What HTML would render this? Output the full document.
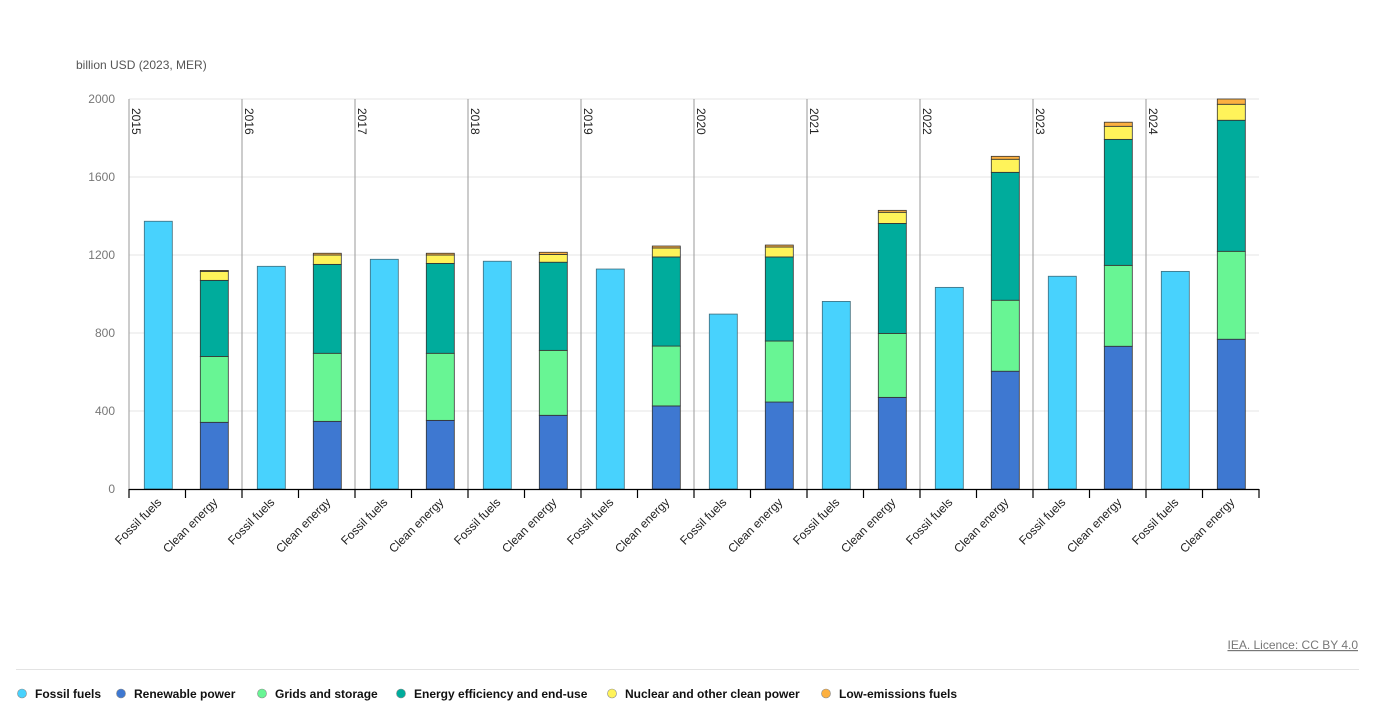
<!DOCTYPE html>
<html><head><meta charset="utf-8"><style>
body{margin:0;background:#fff;font-family:"Liberation Sans",sans-serif;}
svg text{font-family:"Liberation Sans",sans-serif;}
</style></head><body>
<svg width="1375" height="716" xmlns="http://www.w3.org/2000/svg">
<text x="76" y="69" font-size="12" fill="#555">billion USD (2023, MER)</text>
<g id="grid"></g><g id="bars"></g><g id="axes"></g>
<text x="1358" y="649" font-size="12" fill="#777" text-anchor="end" text-decoration="underline">IEA. Licence: CC BY 4.0</text>
<line x1="16" y1="669.5" x2="1359" y2="669.5" stroke="#e3e3e3"/>
<g id="legend"></g>
</svg>
<script>
const years=["2015","2016","2017","2018","2019","2020","2021","2022","2023","2024"];
const fossil=[1373,1142,1178,1168,1128,897,962,1034,1091,1116];
const renewable=[342,347,352,378,426,446,470,604,732,768];
const grids=[338,349,344,333,307,313,328,364,415,451];
const efficiency=[390,456,461,452,457,431,564,656,646,672];
const nuclear=[46,48,43,40,46,51,57,67,67,82];
const lowEmissions=[5,9,9,11,10,10,10,15,21,27];
const yTicks=[0,400,800,1200,1600,2000];
const seriesNames=["Fossil fuels","Renewable power","Grids and storage","Energy efficiency and end-use","Nuclear and other clean power","Low-emissions fuels"];
const colors=["#48d2fd","#3e78d1","#68f594","#00ac9c","#fff35a","#fcb040"];
const NS="http://www.w3.org/2000/svg";
const x0=129,x1=1259,y0=489,y1=99,vmax=2000;
const gw=(x1-x0)/years.length;
const ys=v=>y0-(v/vmax)*(y0-y1);
function mk(t,a,p){const e=document.createElementNS(NS,t);for(const k in a)e.setAttribute(k,a[k]);p.appendChild(e);return e;}
const grid=document.getElementById('grid'),bars=document.getElementById('bars'),axes=document.getElementById('axes'),legend=document.getElementById('legend');
yTicks.forEach(v=>{
  if(v>0){const l=mk('line',{x1:x0,x2:x1,y1:ys(v),y2:ys(v),stroke:'#e5e5e5'},grid);
  
  }
  const t=mk('text',{x:115,y:ys(v)+4,'font-size':12,fill:'#777','text-anchor':'end'},axes);t.textContent=v;
  
  
});
const bw=28;
years.forEach((yr,i)=>{
  const gx=x0+i*gw;
  const sep=mk('line',{x1:gx,x2:gx,y1:y1,y2:y0,stroke:'#999'},axes);
  
  
  const yl=mk('text',{x:0,y:0,'font-size':12,fill:'#222',transform:`translate(${gx+3},${y1+9}) rotate(90)`},axes);yl.textContent=yr;
  
  
  const fx=gx+15.3;
  const fb=mk('rect',{x:fx,y:ys(fossil[i]),width:bw,height:y0-ys(fossil[i]),fill:colors[0],stroke:'#3f6b7a','stroke-width':0.8},bars);
  
  
  const cx=gx+71.3;let acc=0;
  [renewable,grids,efficiency,nuclear,lowEmissions].forEach((s,k)=>{
    const v=s[i];const r=mk('rect',{x:cx,y:ys(acc+v),width:bw,height:ys(acc)-ys(acc+v),fill:colors[k+1],stroke:'#333','stroke-width':0.8},bars);
    
    
    acc+=v;
  });
  [[gx,'Fossil fuels',fx+bw/2],[gx+gw/2,'Clean energy',cx+bw/2]].forEach(([tx,lab,lc])=>{
    const tk=mk('line',{x1:tx,x2:tx,y1:y0,y2:y0+9,stroke:'#000','stroke-width':1.2},axes);
    
    
    const t=mk('text',{x:0,y:0,'font-size':12,fill:'#222','text-anchor':'end',transform:`translate(${lc+4},${y0+14}) rotate(-45)`},axes);t.textContent=lab;
    
    
  });
});
const ax=mk('line',{x1:x0,x2:x1,y1:y0+0.5,y2:y0+0.5,stroke:'#000','stroke-width':1.2},axes);


const endTick=mk('line',{x1:x1,x2:x1,y1:y0,y2:y0+9,stroke:'#000','stroke-width':1.2},axes);


const lx=[22,121,262,401,612,826];
seriesNames.forEach((n,k)=>{
  const g=mk('g',{},legend);
  
  
  mk('circle',{cx:lx[k],cy:693.5,r:4.5,fill:colors[k],stroke:'#888','stroke-width':0.6},g);
  const t=mk('text',{x:lx[k]+13,y:698,'font-size':12,'font-weight':'bold',fill:'#111'},g);t.textContent=n;
});
</script>
</body></html>
